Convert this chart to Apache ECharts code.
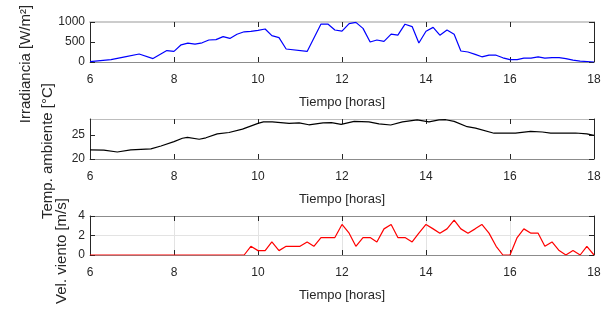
<!DOCTYPE html>
<html>
<head>
<meta charset="utf-8">
<script src="https://cdn.jsdelivr.net/npm/echarts@6/dist/echarts.min.js"></script>
<style>
  html, body { margin: 0; padding: 0; background: #fff; }
  #chart { width: 607px; height: 312px; }
</style>
</head>
<body>
<div id="chart"></div>
<script>
'use strict';

/** datos (hora decimal, valor) */
var irrHoras = [6.0, 6.5, 6.83, 7.17, 7.5, 7.83, 8.0, 8.17, 8.33, 8.5, 8.67, 8.83, 9.0, 9.17, 9.33, 9.5, 9.67, 9.83, 10.0, 10.17, 10.33, 10.5, 10.67, 11.17, 11.5, 11.67, 11.83, 12.0, 12.17, 12.33, 12.5, 12.67, 12.83, 13.0, 13.17, 13.33, 13.5, 13.67, 13.83, 14.0, 14.17, 14.33, 14.5, 14.67, 14.83, 15.0, 15.17, 15.33, 15.5, 15.67, 15.83, 16.0, 16.17, 16.33, 16.5, 16.67, 16.83, 17.0, 17.17, 17.33, 17.5, 17.67, 18.0];
var irrValores = [10, 60, 130, 200, 85, 285, 265, 430, 470, 445, 480, 550, 560, 635, 590, 695, 755, 765, 790, 825, 660, 610, 325, 265, 950, 945, 800, 770, 960, 990, 840, 500, 550, 515, 695, 670, 945, 885, 475, 770, 865, 670, 800, 695, 275, 250, 190, 130, 170, 170, 105, 60, 60, 95, 95, 130, 95, 110, 110, 85, 45, 20, 0];

var tempHoras = [6.0, 6.33, 6.65, 6.97, 7.45, 7.69, 8.0, 8.2, 8.32, 8.6, 8.76, 9.03, 9.31, 9.63, 10.0, 10.13, 10.34, 10.74, 10.98, 11.21, 11.55, 11.75, 11.98, 12.29, 12.64, 12.88, 13.16, 13.44, 13.79, 14.07, 14.31, 14.47, 14.67, 14.98, 15.18, 15.62, 16.13, 16.49, 16.77, 16.97, 17.56, 17.83, 18.0];
var tempValores = [21.9, 21.85, 21.45, 21.9, 22.1, 22.7, 23.6, 24.3, 24.5, 24.1, 24.4, 25.2, 25.5, 26.2, 27.4, 27.7, 27.7, 27.4, 27.5, 27.1, 27.5, 27.55, 27.2, 27.8, 27.7, 27.3, 27.05, 27.7, 28.1, 27.7, 28.1, 28.15, 27.8, 26.7, 26.4, 25.35, 25.35, 25.75, 25.6, 25.35, 25.4, 25.2, 24.9];

var vientoHoras = [6.0, 9.67, 9.83, 10.0, 10.17, 10.33, 10.5, 10.67, 10.83, 11.0, 11.17, 11.33, 11.5, 11.67, 11.83, 12.0, 12.17, 12.33, 12.5, 12.67, 12.83, 13.0, 13.17, 13.33, 13.5, 13.67, 13.83, 14.0, 14.17, 14.33, 14.5, 14.67, 14.83, 15.0, 15.17, 15.33, 15.5, 15.67, 15.83, 16.0, 16.17, 16.33, 16.5, 16.67, 16.83, 17.0, 17.17, 17.33, 17.5, 17.67, 17.83, 18.0];
var vientoValores = [0, 0, 0.89, 0.45, 0.45, 1.34, 0.45, 0.89, 0.89, 0.89, 1.34, 0.89, 1.79, 1.79, 1.79, 3.13, 2.24, 0.89, 1.79, 1.79, 1.34, 2.68, 3.13, 1.79, 1.79, 1.34, 2.24, 3.13, 2.68, 2.24, 2.68, 3.58, 2.68, 2.24, 2.68, 3.13, 2.24, 0.89, 0, 0, 1.79, 2.68, 2.24, 2.24, 0.89, 1.34, 0.45, 0, 0.45, 0, 0.89, 0];

var xTitulo = 'Tiempo [horas]';
var yTitulos = ['Irradiancia [W/m²]', 'Temp. ambiente [°C]', 'Vel. viento [m/s]'];

function pares(h, v) {
    return h.map(function (x, i) { return [x, v[i]]; });
}

var fuente = "'Liberation Sans', Arial, sans-serif";
var texto = '#262626';

var paneles = [
    { top: 22, height: 40, min: 0, max: 1000, interval: 500, grid: false, arriba: '#cccccc', tx: 26, ty: 64 },
    { top: 119, height: 40, min: 20, max: 28.3, interval: 5, grid: false, arriba: '#bdbdbd', tx: 48, ty: 151 },
    { top: 216, height: 39, min: 0, max: 4, interval: 2, grid: true, arriba: '#8c8c8c', tx: 62, ty: 251 }
];
var series = [pares(irrHoras, irrValores), pares(tempHoras, tempValores), pares(vientoHoras, vientoValores)];
var colores = ['#0000ff', '#000000', '#ff0000'];

var grids = [], xAxes = [], yAxes = [], lineas = [], titulos = [];
paneles.forEach(function (p, i) {
    grids.push({ left: 90, right: 13, top: p.top, height: p.height, outerBoundsMode: 'none', containLabel: false });
    // eje x inferior
    xAxes.push({
        type: 'value', gridIndex: i, min: 6, max: 18, interval: 2,
        name: xTitulo, nameLocation: 'middle', nameGap: 34,
        nameTextStyle: { fontFamily: fuente, fontSize: 13, color: texto },
        axisLine: { onZero: false, lineStyle: { color: '#8c8c8c', width: 1 } },
        axisTick: { inside: true, length: 5, lineStyle: { color: texto } },
        axisLabel: { fontFamily: fuente, fontSize: 12, color: texto, margin: 12 },
        splitLine: { show: p.grid, lineStyle: { color: '#e3e3e3' } }
    });
    // eje x superior (caja)
    xAxes.push({
        type: 'value', gridIndex: i, position: 'top', min: 6, max: 18, interval: 2,
        axisLine: { onZero: false, lineStyle: { color: p.arriba, width: i === 0 ? 2 : 1 } },
        axisTick: { inside: true, length: 5, lineStyle: { color: texto } },
        axisLabel: { show: false }, splitLine: { show: false }
    });
    yAxes.push({
        type: 'value', gridIndex: i, min: p.min, max: p.max, interval: p.interval,
        axisLine: { show: true, onZero: false, lineStyle: { color: texto } },
        axisTick: { show: true, inside: true, length: 5, lineStyle: { color: texto } },
        axisLabel: {
            fontFamily: fuente, fontSize: 12, color: texto, margin: 5, showMaxLabel: i !== 1,
            formatter: function (v) { return String(v); }
        },
        splitLine: { show: p.grid, lineStyle: { color: '#e3e3e3' } }
    });
    yAxes.push({
        type: 'value', gridIndex: i, position: 'right', min: p.min, max: p.max, interval: p.interval,
        axisLine: { show: true, onZero: false, lineStyle: { color: texto } },
        axisTick: { show: true, inside: true, length: 5, lineStyle: { color: texto } },
        axisLabel: { show: false }, splitLine: { show: false }
    });
    lineas.push({
        type: 'line', xAxisIndex: i * 2, yAxisIndex: i * 2, data: series[i],
        showSymbol: false, animation: false,
        lineStyle: { color: colores[i], width: 1.2 }
    });
    // titulo vertical del eje y
    titulos.push({
        type: 'text', x: p.tx, y: p.ty, rotation: Math.PI / 2,
        style: {
            text: yTitulos[i], fontFamily: fuente, fontSize: 15, fill: texto,
            align: 'center', verticalAlign: 'middle'
        }
    });
});

var chart = echarts.init(document.getElementById('chart'));
chart.setOption({
    animation: false,
    grid: grids,
    xAxis: xAxes,
    yAxis: yAxes,
    series: lineas,
    graphic: titulos
});
</script>
</body>
</html>
